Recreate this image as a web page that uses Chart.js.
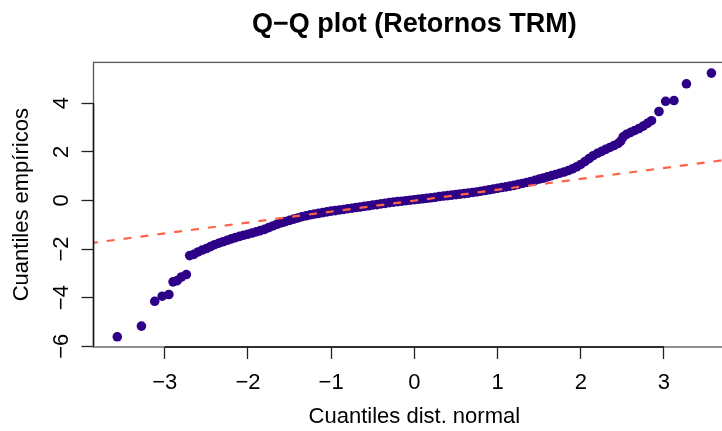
<!DOCTYPE html>
<html>
<head>
<meta charset="utf-8">
<script src="https://cdn.jsdelivr.net/npm/chart.js@4.4.1/dist/chart.umd.min.js"></script>
<style>
  html, body { margin: 0; padding: 0; background: #fff; overflow: hidden; }
  canvas { display: block; }
</style>
</head>
<body>
<canvas id="qq" width="740" height="431" style="width:740px;height:431px"></canvas>
<script>
// ─── DATOS ─────────────────────────────────────────────
// cuantiles teóricos (normal) vs cuantiles empíricos de los retornos
const qqX = [
  -3.57, -3.28, -3.12, -3.03, -2.95, -2.90, -2.85, -2.80, -2.74, -2.70,
  -2.65, -2.60, -2.55, -2.50, -2.45, -2.40, -2.35, -2.30, -2.25, -2.20,
  -2.15, -2.10, -2.05, -2.00, -1.95, -1.90, -1.85, -1.80, -1.75, -1.70,
  -1.65, -1.60, -1.55, -1.50, -1.45, -1.40, -1.35, -1.30, -1.25, -1.20,
  -1.15, -1.10, -1.05, -1.00, -0.95, -0.90, -0.85, -0.80, -0.75, -0.70,
  -0.65, -0.60, -0.55, -0.50, -0.45, -0.40, -0.35, -0.30, -0.25, -0.20,
  -0.15, -0.10, -0.05,  0.00,  0.05,  0.10,  0.15,  0.20,  0.25,  0.30,
   0.35,  0.40,  0.45,  0.50,  0.55,  0.60,  0.65,  0.70,  0.75,  0.80,
   0.85,  0.90,  0.95,  1.00,  1.05,  1.10,  1.15,  1.20,  1.25,  1.30,
   1.35,  1.40,  1.45,  1.50,  1.55,  1.60,  1.65,  1.70,  1.75,  1.80,
   1.85,  1.90,  1.95,  2.00,  2.05,  2.10,  2.15,  2.20,  2.25,  2.30,
   2.35,  2.40,  2.45,  2.48,  2.51,  2.55,  2.60,  2.65,  2.70,  2.75,
   2.80,  2.85,  2.94,  3.02,  3.12,  3.27,  3.57
];
const qqY = [
  -5.61, -5.17, -4.15, -3.94, -3.87, -3.35, -3.30, -3.15, -3.05, -2.27,
  -2.22, -2.12, -2.04, -1.98, -1.90, -1.82, -1.76, -1.70, -1.64, -1.58,
  -1.53, -1.48, -1.43, -1.39, -1.34, -1.29, -1.24, -1.19, -1.12, -1.05,
  -0.98, -0.92, -0.87, -0.82, -0.77, -0.72, -0.67, -0.63, -0.59, -0.56,
  -0.53, -0.50, -0.47, -0.44, -0.42, -0.39, -0.37, -0.34, -0.32, -0.29,
  -0.27, -0.24, -0.22, -0.19, -0.17, -0.14, -0.12, -0.09, -0.07, -0.05,
  -0.03, -0.01,  0.01,  0.03,  0.05,  0.07,  0.09,  0.11,  0.13,  0.16,
   0.18,  0.20,  0.22,  0.24,  0.26,  0.28,  0.30,  0.33,  0.35,  0.38,
   0.41,  0.44,  0.47,  0.50,  0.53,  0.56,  0.59,  0.62,  0.66,  0.70,
   0.74,  0.78,  0.83,  0.88,  0.92,  0.97,  1.02,  1.07,  1.12,  1.17,
   1.23,  1.30,  1.38,  1.48,  1.60,  1.72,  1.84,  1.94,  2.02,  2.10,
   2.18,  2.26,  2.35,  2.44,  2.62,  2.72,  2.80,  2.88,  2.96,  3.06,
   3.17,  3.28,  3.66,  4.08,  4.11,  4.80,  5.24
];

// qqline (recta de referencia)
const lineX = [-3.9, 3.9];
const lineY = [-1.76, 1.74];

const xTicks = [-3, -2, -1, 0, 1, 2, 3];
const yTicks = [-6, -4, -2, 0, 2, 4];
const xLim   = [-3.856, 3.856];
const yLim   = [-6.03, 5.68];

// ─── ESTILO ────────────────────────────────────────────
const FONT    = "'Liberation Sans', Arial, Helvetica, sans-serif";
const C_PTS   = '#2d0087';
const C_LINE  = '#ff6347';
const fmt     = v => v < 0 ? '\u2212' + Math.abs(v) : String(v);

// caja alrededor del panel + líneas de eje sólo en el rango de ticks (estilo R)
const boxPlugin = {
  id: 'rbox',
  afterDraw(chart) {
    const { ctx, chartArea: a, scales: { x, y } } = chart;
    ctx.save();
    ctx.strokeStyle = '#555';
    ctx.lineWidth = 1.3;
    ctx.strokeRect(a.left, a.top, a.right - a.left, a.bottom - a.top);
    ctx.strokeStyle = '#111';
    ctx.lineWidth = 1.5;
    ctx.beginPath();
    ctx.moveTo(x.getPixelForValue(xTicks[0]), a.bottom);
    ctx.lineTo(x.getPixelForValue(xTicks[xTicks.length - 1]), a.bottom);
    ctx.moveTo(a.left, y.getPixelForValue(yTicks[0]));
    ctx.lineTo(a.left, y.getPixelForValue(yTicks[yTicks.length - 1]));
    ctx.stroke();
    ctx.restore();
  }
};

new Chart(document.getElementById('qq'), {
  type: 'scatter',
  data: {
    datasets: [
      {
        label: 'Retornos',
        data: qqX.map((x, i) => ({ x, y: qqY[i] })),
        backgroundColor: C_PTS,
        borderWidth: 0,
        pointRadius: 4.8,
        pointHoverRadius: 4.8,
        order: 1,
      },
      {
        type: 'line',
        label: 'qqline',
        data: lineX.map((x, i) => ({ x, y: lineY[i] })),
        borderColor: C_LINE,
        borderWidth: 2.2,
        borderDash: [8, 9],
        pointRadius: 0,
        fill: false,
        order: 0,
      },
    ],
  },
  options: {
    responsive: false,
    animation: false,
    layout: { padding: 0 },
    plugins: {
      legend:  { display: false },
      tooltip: { enabled: false },
      title: {
        display: true,
        fullSize: false,
        text: 'Q\u2212Q plot (Retornos TRM)',
        color: '#000',
        font: { family: FONT, size: 27, weight: 'bold' },
        padding: { top: 8, bottom: 22 },
      },
    },
    scales: {
      x: {
        type: 'linear',
        min: xLim[0],
        max: xLim[1],
        afterBuildTicks: s => { s.ticks = xTicks.map(v => ({ value: v })); },
        afterFit: s => { s.height = 84; },
        border: { display: false },
        grid: { drawOnChartArea: false, drawTicks: true, tickLength: 12, tickColor: '#222', tickWidth: 1.3 },
        ticks: { autoSkip: false, minRotation: 0, maxRotation: 0, padding: 11, color: '#000',
                 font: { family: FONT, size: 22 }, callback: fmt },
        title: { display: true, text: 'Cuantiles dist. normal', color: '#000',
                 font: { family: FONT, size: 22 }, padding: { top: 0, bottom: 1 } },
      },
      y: {
        type: 'linear',
        min: yLim[0],
        max: yLim[1],
        afterBuildTicks: s => { s.ticks = yTicks.map(v => ({ value: v })); },
        afterFit: s => { s.width = 93.5; },
        border: { display: false },
        grid: { drawOnChartArea: false, drawTicks: true, tickLength: 12, tickColor: '#222', tickWidth: 1.3 },
        ticks: { autoSkip: false, minRotation: 90, maxRotation: 90, crossAlign: 'center', padding: 7,
                 color: '#000', font: { family: FONT, size: 22 }, callback: fmt },
        title: { display: true, text: 'Cuantiles empíricos', color: '#000',
                 font: { family: FONT, size: 22 }, padding: { top: 9, bottom: 0 } },
      },
    },
  },
  plugins: [boxPlugin],
});
</script>
</body>
</html>
